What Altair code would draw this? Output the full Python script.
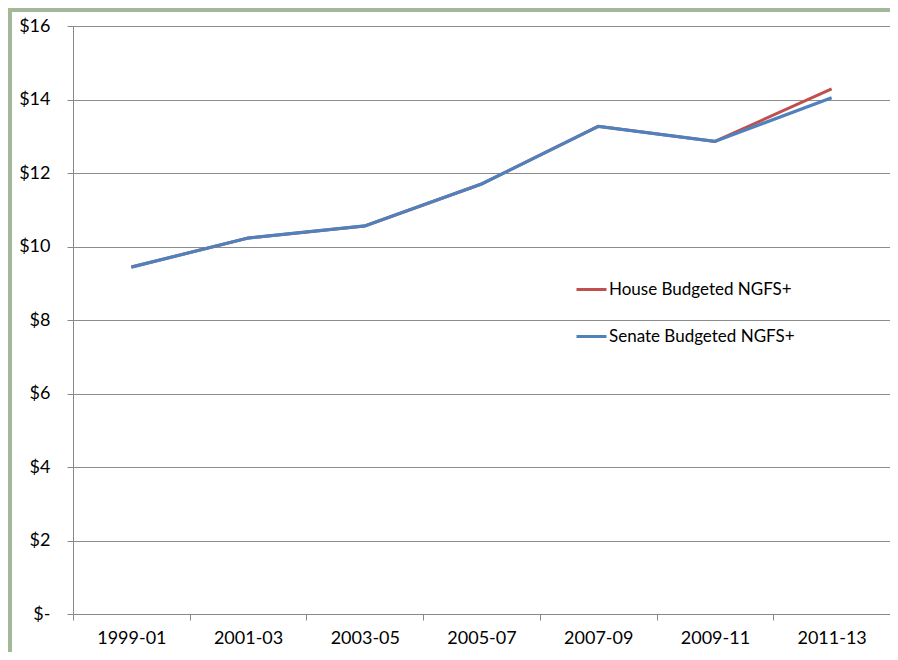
import altair as alt
import pandas as pd

periods = ["1999-01", "2001-03", "2003-05", "2005-07", "2007-09", "2009-11", "2011-13"]
house = [9.44, 10.23, 10.56, 11.70, 13.27, 12.86, 14.29]
senate = [9.44, 10.23, 10.56, 11.70, 13.27, 12.86, 14.05]
series_names = ["House Budgeted NGFS+", "Senate Budgeted NGFS+"]
series_colors = ["#c0504d", "#4f81bd"]
y_ticks = [0, 2, 4, 6, 8, 10, 12, 14, 16]

rows = []
for p, h, s in zip(periods, house, senate):
    rows.append({"period": p, "series": series_names[0], "value": h})
    rows.append({"period": p, "series": series_names[1], "value": s})
df = pd.DataFrame(rows)

FONT = "Lato"

x_enc = alt.X("period:N", sort=periods, title=None,
              scale=alt.Scale(type="band", paddingInner=0, paddingOuter=0),
              axis=alt.Axis(tickBand="extent", labelAngle=0, grid=False,
                            domainColor="#888888", tickColor="#888888", tickSize=6,
                            labelFont=FONT, labelFontSize=18, labelColor="#000000",
                            labelPadding=9))
y_enc = alt.Y("value:Q", title=None,
              scale=alt.Scale(domain=[0, 16], nice=False),
              axis=alt.Axis(values=y_ticks, grid=True, gridColor="#8c8c8c",
                            domainColor="#888888", tickColor="#888888", tickSize=6,
                            labelFont=FONT, labelFontSize=18, labelColor="#000000",
                            labelPadding=17,
                            labelExpr="datum.value == 0 ? '$-  ' : '$' + datum.value"))
color_enc = alt.Color("series:N", title=None,
                      scale=alt.Scale(domain=series_names, range=series_colors),
                      legend=alt.Legend(orient="none", legendX=502, legendY=247,
                                        symbolType="stroke", symbolSize=900,
                                        symbolStrokeWidth=3, rowPadding=22,
                                        labelFont=FONT, labelFontSize=17,
                                        labelLimit=400,
                                        labelColor="#000000", labelOffset=1))

base = alt.Chart(df)
house_line = base.transform_filter(alt.datum.series == series_names[0]).mark_line(
    strokeWidth=3).encode(x=x_enc, y=y_enc, color=color_enc)
senate_line = base.transform_filter(alt.datum.series == series_names[1]).mark_line(
    strokeWidth=3.2).encode(x=x_enc, y=y_enc, color=color_enc)

border_df = pd.DataFrame({"k": [0]})
left_border = alt.Chart(border_df).mark_rule(color="#a3b899", strokeWidth=4, clip=False).encode(
    x=alt.value(-63), y=alt.value(-18), y2=alt.value(650))
top_border = alt.Chart(border_df).mark_rule(color="#a3b899", strokeWidth=4, clip=False).encode(
    x=alt.value(-65), x2=alt.value(840), y=alt.value(-16))

chart = alt.layer(left_border, top_border, house_line, senate_line).properties(
    width=817, height=588,
    padding={"left": 65, "top": 18, "right": 0, "bottom": 38},
    autosize=alt.AutoSizeParams(type="none"),
    background="#ffffff",
).configure_view(stroke=None)

chart.save("out.html", embed_options={"renderer": "svg", "actions": False})
